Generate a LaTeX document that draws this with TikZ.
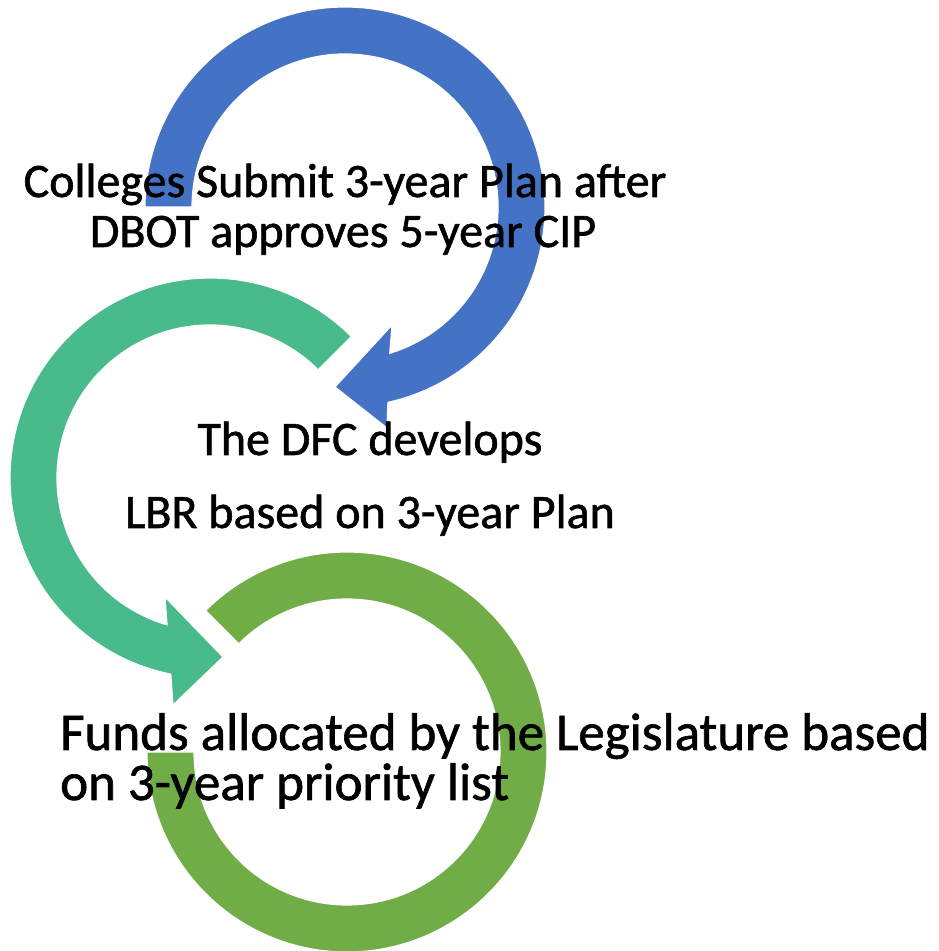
\documentclass[tikz,border=0pt]{standalone}
\usepackage{fontspec}
\setmainfont{Carlito}
\newfontfamily\heavyfont{Carlito}[FakeBold=1.2]
\definecolor{blueA}{RGB}{68,114,196}
\definecolor{tealA}{RGB}{72,186,139}
\definecolor{greenA}{RGB}{112,173,71}
\begin{document}
\begin{tikzpicture}[x=1pt,y=1pt,
  arcshape/.style={draw=white, line width=1.2pt, line join=miter},
  lbl/.style={anchor=base, inner sep=0pt, text=black, font=\heavyfont\fontsize{48}{50}\selectfont},
  lblbig/.style={anchor=base west, inner sep=0pt, text=black, font=\heavyfont\fontsize{53}{55}\selectfont}]
\useasboundingbox (0,0) rectangle (939,951);
\coordinate (B) at (345,744);
\coordinate (T) at (210,473);
\coordinate (G) at (347,199);
% blue arrow
\path[arcshape, fill=blueA] ([shift={(180:200)}]B) arc[start angle=180, end angle=-77.6, radius=200]
  -- (387,523) -- (335,564) -- (392,626)
  -- ([shift={(-73:153)}]B) arc[start angle=-73, end angle=180, radius=153] -- cycle;
% teal arrow
\path[arcshape, fill=tealA] ([shift={(45:200)}]T) arc[start angle=45, end angle=258.7, radius=200]
  -- (173,246) -- (223,294) -- (165,354)
  -- ([shift={(253.7:153)}]T) arc[start angle=253.7, end angle=45, radius=153] -- cycle;
% green arc
\path[arcshape, fill=greenA] ([shift={(180:200)}]G) arc[start angle=180, end angle=495, radius=200]
  -- ([shift={(495:153)}]G) arc[start angle=495, end angle=180, radius=153] -- cycle;
% texts
\node[lbl] (t1a) at (345,754) {Colleges Submit 3-year Plan after};
\node[lbl] (t1b) at (343,704) {DBOT approves 5-year CIP};
\node[lbl] (t2a) at (370,496) {The DFC develops};
\node[lbl] (t2b) at (370,423) {LBR based on 3-year Plan};
\node[lblbig] (t3a) at (60,201) {Funds allocated by the Legislature based};
\node[lblbig] (t3b) at (60,151) {on 3-year priority list};
\end{tikzpicture}
\end{document}
